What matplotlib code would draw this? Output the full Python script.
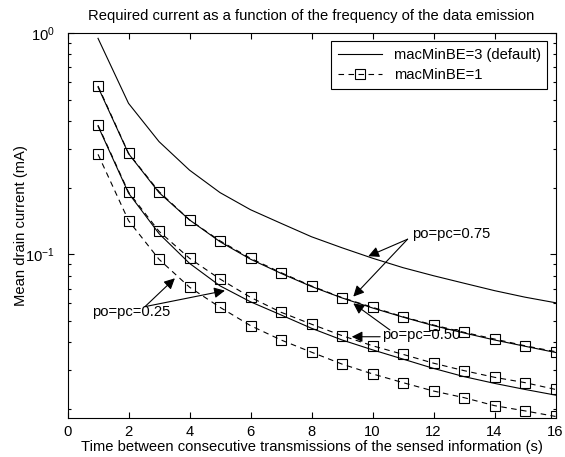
import numpy as np
import matplotlib
matplotlib.use("Agg")
import matplotlib.pyplot as plt
from matplotlib.ticker import NullFormatter, LogLocator

plt.rcParams['font.family'] = ['Liberation Sans', 'DejaVu Sans']
plt.rcParams['font.size'] = 10.6
plt.rcParams['mathtext.default'] = 'regular'

# time between transmissions (s)
t = np.arange(1, 17)

# macMinBE=3 (default), solid lines
be3_075 = [0.946, 0.481, 0.323, 0.240, 0.190, 0.159, 0.138, 0.120, 0.107, 0.096,
           0.087, 0.080, 0.074, 0.0685, 0.064, 0.0604]
be3_050 = [0.570, 0.285, 0.190, 0.143, 0.114, 0.095, 0.082, 0.0715, 0.0635, 0.0572,
           0.052, 0.0476, 0.0441, 0.041, 0.0384, 0.036]
be3_025 = [0.380, 0.189, 0.124, 0.091, 0.072, 0.061, 0.0532, 0.0463, 0.041, 0.0370,
           0.0336, 0.0305, 0.028, 0.0261, 0.0245, 0.0231]

# macMinBE=1, dashed with squares
be1_075 = [0.576, 0.286, 0.192, 0.143, 0.115, 0.0959, 0.0826, 0.0719, 0.0637, 0.0576,
           0.0522, 0.0479, 0.0444, 0.0414, 0.0386, 0.0363]
be1_050 = [0.383, 0.191, 0.127, 0.0959, 0.0773, 0.0639, 0.0547, 0.0483, 0.0429, 0.0386,
           0.0353, 0.0322, 0.0298, 0.0278, 0.0263, 0.0245]
be1_025 = [0.283, 0.142, 0.0949, 0.0710, 0.0576, 0.0476, 0.0410, 0.0361, 0.0319, 0.0288,
           0.0263, 0.0241, 0.0225, 0.0207, 0.0196, 0.0185]

fig = plt.figure(figsize=(5.65, 4.57), dpi=100)
ax = fig.add_axes([0.1195, 0.0853, 0.8637, 0.8425])

lw = 0.8
sq = dict(marker='s', markersize=7, markerfacecolor='none', markeredgecolor='k',
          markeredgewidth=0.8, dashes=(5, 4))

ax.plot(t, be3_075, 'k-', lw=lw, label='macMinBE=3 (default)')
ax.plot(t, be3_050, 'k-', lw=lw)
ax.plot(t, be3_025, 'k-', lw=lw)
ax.plot(t, be1_075, color='k', lw=lw, label='macMinBE=1', **sq)
ax.plot(t, be1_050, color='k', lw=lw, **sq)
ax.plot(t, be1_025, color='k', lw=lw, **sq)

ax.set_yscale('log')
ax.set_xlim(0, 16)
ax.set_ylim(0.0182, 1)
ax.set_xticks(range(0, 17, 2))
ax.set_yticks([0.1, 1])
ax.set_yticklabels(['$10^{-1}$', '$10^{0}$'])
ax.yaxis.set_minor_locator(LogLocator(subs=np.arange(2, 10)))
ax.yaxis.set_minor_formatter(NullFormatter())
ax.tick_params(which='both', direction='in', top=True, right=True, width=0.8)
ax.tick_params(which='major', length=4)
ax.tick_params(which='minor', length=2.5)
ax.tick_params(axis='y', pad=9)
ax.tick_params(axis='x', pad=5)
for s in ax.spines.values():
    s.set_linewidth(0.8)

ax.set_title('Required current as a function of the frequency of the data emission',
             fontsize=10.6, pad=9)
ax.set_xlabel('Time between consecutive transmissions of the sensed information (s)', labelpad=1)
ax.set_ylabel('Mean drain current (mA)', labelpad=-2)

arr = dict(arrowstyle='-|>', color='k', lw=0.8, mutation_scale=16, shrinkA=0, shrinkB=0)

# po=pc=0.75
ax.text(11.29, 0.123, 'po=pc=0.75', ha='left', va='center')
ax.annotate('', xy=(9.86, 0.098), xytext=(11.15, 0.117), arrowprops=arr)
ax.annotate('', xy=(9.37, 0.0644), xytext=(11.15, 0.117), arrowprops=arr)

# po=pc=0.50
ax.text(10.30, 0.0432, 'po=pc=0.50', ha='left', va='center')
ax.annotate('', xy=(9.37, 0.060), xytext=(10.57, 0.0455), arrowprops=arr)
ax.annotate('', xy=(9.32, 0.0424), xytext=(10.25, 0.0424), arrowprops=arr)

# po=pc=0.25
ax.text(0.81, 0.0550, 'po=pc=0.25', ha='left', va='center')
ax.annotate('', xy=(3.52, 0.0779), xytext=(2.54, 0.058), arrowprops=arr)
ax.annotate('', xy=(5.16, 0.0685), xytext=(2.54, 0.058), arrowprops=arr)

leg = ax.legend(loc='upper right', fancybox=False, framealpha=1, edgecolor='k',
                handlelength=3.0, borderaxespad=0.55, labelspacing=0.45,
                borderpad=0.45)
leg.get_frame().set_linewidth(0.8)

fig.savefig('out.png', dpi=100)
